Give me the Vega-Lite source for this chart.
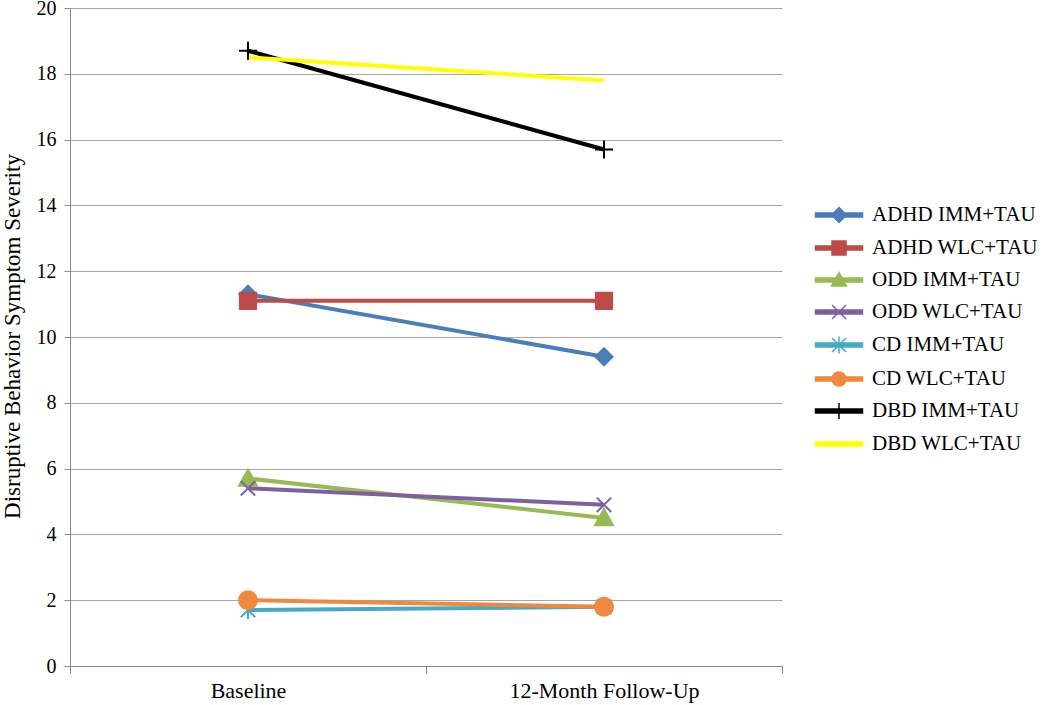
{
  "$schema": "https://vega.github.io/schema/vega-lite/v6.json",
  "autosize": "none",
  "width": 712,
  "height": 658,
  "padding": {"left": 70, "top": 8, "right": 268, "bottom": 39},
  "background": "white",
  "config": {
    "view": {"stroke": null},
    "font": "Liberation Serif",
    "axis": {"labelFont": "Liberation Serif", "titleFont": "Liberation Serif", "labelColor": "#000", "titleColor": "#000"}
  },
  "data": {"values": [
    {"series": "ADHD IMM+TAU", "time": "Baseline", "value": 11.3},
    {"series": "ADHD IMM+TAU", "time": "12-Month Follow-Up", "value": 9.4},
    {"series": "ADHD WLC+TAU", "time": "Baseline", "value": 11.1},
    {"series": "ADHD WLC+TAU", "time": "12-Month Follow-Up", "value": 11.1},
    {"series": "ODD IMM+TAU", "time": "Baseline", "value": 5.7},
    {"series": "ODD IMM+TAU", "time": "12-Month Follow-Up", "value": 4.5},
    {"series": "ODD WLC+TAU", "time": "Baseline", "value": 5.4},
    {"series": "ODD WLC+TAU", "time": "12-Month Follow-Up", "value": 4.9},
    {"series": "CD IMM+TAU", "time": "Baseline", "value": 1.7},
    {"series": "CD IMM+TAU", "time": "12-Month Follow-Up", "value": 1.8},
    {"series": "CD WLC+TAU", "time": "Baseline", "value": 2.0},
    {"series": "CD WLC+TAU", "time": "12-Month Follow-Up", "value": 1.8},
    {"series": "DBD IMM+TAU", "time": "Baseline", "value": 18.7},
    {"series": "DBD IMM+TAU", "time": "12-Month Follow-Up", "value": 15.7},
    {"series": "DBD WLC+TAU", "time": "Baseline", "value": 18.5},
    {"series": "DBD WLC+TAU", "time": "12-Month Follow-Up", "value": 17.8}
  ]},
  "encoding": {
    "x": {
      "field": "time", "type": "nominal", "sort": ["Baseline", "12-Month Follow-Up"],
      "scale": {"type": "band", "paddingInner": 0, "paddingOuter": 0},
      "axis": {"title": null, "labelAngle": 0, "labelFontSize": 22, "labelPadding": 7, "labelLimit": 400, "tickBand": "extent", "tickSize": 7, "tickColor": "#888", "domainColor": "#888", "grid": false}
    },
    "y": {
      "field": "value", "type": "quantitative",
      "scale": {"domain": [0, 20], "nice": false, "zero": true},
      "axis": {"title": "Disruptive Behavior Symptom Severity", "titleFontSize": 23, "titleFontWeight": "normal", "titleX": -58, "titleY": 328, "titleAngle": -90, "titleAlign": "center", "titleBaseline": "middle", "values": [0, 2, 4, 6, 8, 10, 12, 14, 16, 18, 20], "labelFontSize": 20, "labelPadding": 8, "tickSize": 6, "tickColor": "#888", "domainColor": "#888", "gridColor": "#A6A6A6", "grid": true}
    },
    "color": {
      "field": "series", "type": "nominal",
      "scale": {
        "domain": ["ADHD IMM+TAU", "ADHD WLC+TAU", "ODD IMM+TAU", "ODD WLC+TAU", "CD IMM+TAU", "CD WLC+TAU", "DBD IMM+TAU", "DBD WLC+TAU"],
        "range": ["#4A7EBB", "#BE4B48", "#98B954", "#7D60A0", "#46AAC5", "#F0883F", "#000000", "#FFFF00"]
      },
      "legend": {
        "title": null, "orient": "none", "legendX": 758, "legendY": 196, "padding": 0,
        "symbolSize": 400, "rowPadding": 11, "labelOffset": 22, "labelFontSize": 21, "labelFont": "Liberation Serif", "labelColor": "#000", "labelLimit": 300,
        "encode": {
          "symbols": {
            "update": {
              "shape": {"signal": "datum.value === 'ADHD IMM+TAU' ? 'M-2.35,-0.2H2.35V0.2H-2.35Z M0,-0.75L0.75,0L0,0.75L-0.75,0Z' : datum.value === 'ADHD WLC+TAU' ? 'M-2.35,-0.2H2.35V0.2H-2.35Z M-0.7,-0.7H0.7V0.7H-0.7Z' : datum.value === 'ODD IMM+TAU' ? 'M-2.35,-0.2H2.35V0.2H-2.35Z M0,-0.75L0.75,0.6H-0.75Z' : datum.value === 'ODD WLC+TAU' ? 'M-2.35,-0.2H2.35V0.2H-2.35Z M-0.7,-0.7L0.7,0.7M-0.7,0.7L0.7,-0.7' : datum.value === 'CD IMM+TAU' ? 'M-2.35,-0.2H2.35V0.2H-2.35Z M-0.7,-0.7L0.7,0.7M-0.7,0.7L0.7,-0.7M0,-0.85V0.85' : datum.value === 'CD WLC+TAU' ? 'M-2.35,-0.2H2.35V0.2H-2.35Z M0.7,0L0.647,0.268L0.495,0.495L0.268,0.647L0,0.7L-0.268,0.647L-0.495,0.495L-0.647,0.268L-0.7,0L-0.647,-0.268L-0.495,-0.495L-0.268,-0.647L0,-0.7L0.268,-0.647L0.495,-0.495L0.647,-0.268Z' : datum.value === 'DBD IMM+TAU' ? 'M-2.35,-0.2H2.35V0.2H-2.35Z M-0.8,0H0.8M0,-0.8V0.8' : 'M-2.35,-0.2H2.35V0.2H-2.35Z'"},
              "fill": {"signal": "scale('color', datum.value)"},
              "stroke": {"signal": "scale('color', datum.value)"},
              "strokeWidth": {"value": 1.5},
              "size": {"value": 400},
              "opacity": {"value": 1},
              "fillOpacity": {"value": 1}
            }
          }
        }
      }
    }
  },
  "layer": [
    {
      "mark": {"type": "line", "strokeWidth": 4},
      "encoding": {"detail": {"field": "series"}}
    },
    {
      "transform": [{"filter": "datum.series !== 'DBD WLC+TAU'"}],
      "mark": {"type": "point", "filled": true, "strokeWidth": 2, "opacity": 1, "size": 324},
      "encoding": {
        "shape": {
          "field": "series", "type": "nominal", "legend": null,
          "scale": {
            "domain": ["ADHD IMM+TAU", "ADHD WLC+TAU", "ODD IMM+TAU", "ODD WLC+TAU", "CD IMM+TAU", "CD WLC+TAU", "DBD IMM+TAU"],
            "range": ["M0,-0.95L0.95,0L0,0.95L-0.95,0Z", "M-0.9,-0.9H0.9V0.9H-0.9Z", "M0,-1L1,0.8H-1Z", "M-0.8,-0.8L0.8,0.8M-0.8,0.8L0.8,-0.8", "M-0.8,-0.8L0.8,0.8M-0.8,0.8L0.8,-0.8M0,-1V1", "circle", "M-1,0H1M0,-1V1"]
          }
        },
        "stroke": {"field": "series", "type": "nominal", "legend": null, "scale": {
          "domain": ["ADHD IMM+TAU", "ADHD WLC+TAU", "ODD IMM+TAU", "ODD WLC+TAU", "CD IMM+TAU", "CD WLC+TAU", "DBD IMM+TAU", "DBD WLC+TAU"],
          "range": ["#4A7EBB", "#BE4B48", "#98B954", "#7D60A0", "#46AAC5", "#F0883F", "#000000", "#FFFF00"]
        }}
      }
    }
  ]
}
